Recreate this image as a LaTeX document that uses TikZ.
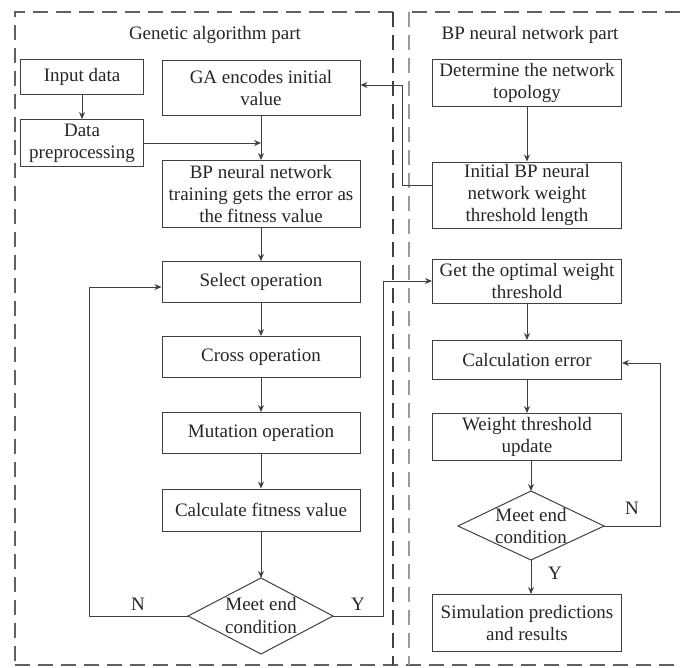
\documentclass[tikz,border=0pt]{standalone}
\usepackage{fontspec}
\setmainfont{Liberation Serif}
\newfontfamily\figfont{Liberation Serif}
\usetikzlibrary{arrows.meta,calc}
\definecolor{ln}{HTML}{404040}
\definecolor{dsh}{HTML}{606060}
\definecolor{dshl}{HTML}{9A9A9A}
\tikzset{
  box/.style={draw=ln,line width=1pt,align=center,inner sep=0pt,font=\figfont\fontsize{19}{22}\selectfont,text=black!85},
  wbox/.style={box,minimum width=198pt},
  rbox/.style={box,minimum width=189pt},
  sbox/.style={box,minimum width=123pt},
  lbl/.style={font=\figfont\fontsize{19}{22}\selectfont,text=black!85,inner sep=0pt},
  arr/.style={draw=ln,line width=1pt,-{Stealth[length=7pt,width=6pt]}},
  ln/.style={draw=ln,line width=1pt},
  frame/.style={line width=1.6pt,dash pattern=on 15pt off 8pt}
}
\begin{document}
\begin{tikzpicture}[x=1pt,y=-1pt]
\useasboundingbox (0,0) rectangle (680,667);
% frames
\draw[frame,dsh] (393,12) -- (15,12) -- (15,665);
\draw[frame,dsh] (15,665) -- (680,665);
\draw[frame,black!75] (393,12) -- (393,665);
\draw[frame,dsh] (680,12) -- (409,12);
\draw[frame,dshl] (409,12) -- (409,665);
% titles
\node[lbl] (t1) at (215,35) {Genetic algorithm part};
\node[lbl] (t2) at (530,35) {BP neural network part};
% left column
\node[sbox,minimum height=35pt] (inp) at (82,77) {Input data};
\node[sbox,minimum height=47pt] (pre) at (82,143) {Data\\preprocessing};
\node[wbox,minimum height=55pt] (ga) at (261,88) {GA encodes initial\\value};
\node[wbox,minimum height=67pt] (bp) at (261,194) {BP neural network\\training gets the error as\\the fitness value};
\node[wbox,minimum height=41pt] (sel) at (261,282) {Select operation};
\node[wbox,minimum height=41pt] (cro) at (261,357) {Cross operation};
\node[wbox,minimum height=41pt] (mut) at (261,433) {Mutation operation};
\node[wbox,minimum height=42pt] (fit) at (261,510) {Calculate fitness value};
\coordinate (d1n) at (261,578);
\coordinate (d1e) at (333,616);
\coordinate (d1s) at (261,654);
\coordinate (d1w) at (188,616);
\draw[ln] (d1n) -- (d1e) -- (d1s) -- (d1w) -- cycle;
\node[lbl,align=center,font=\figfont\fontsize{19}{23}\selectfont] (d1) at (261,615) {Meet end\\condition};
% right column
\node[rbox,minimum height=47pt] (det) at (527,83) {Determine the network\\topology};
\node[rbox,minimum height=66pt] (ini) at (527,195) {Initial BP neural\\network weight\\threshold length};
\node[rbox,minimum height=44pt] (opt) at (527,281) {Get the optimal weight\\threshold};
\node[rbox,minimum height=39pt] (cer) at (527,360) {Calculation error};
\node[rbox,minimum height=47pt] (upd) at (527,437) {Weight threshold\\update};
\coordinate (d2n) at (531,491);
\coordinate (d2e) at (604,526);
\coordinate (d2s) at (531,560);
\coordinate (d2w) at (458,526);
\draw[ln] (d2n) -- (d2e) -- (d2s) -- (d2w) -- cycle;
\node[lbl,align=center] (d2) at (531,526) {Meet end\\condition};
\node[rbox,minimum height=57pt] (sim) at (527,623) {Simulation predictions\\and results};
% left connectors
\draw[arr] (inp) -- (pre);
\draw[arr] (ga) -- (bp);
\draw[arr] (pre.east) -- (pre.east -| ga.south);
\draw[arr] (bp) -- (sel);
\draw[arr] (sel) -- (cro);
\draw[arr] (cro) -- (mut);
\draw[arr] (mut) -- (fit);
\draw[arr] (fit) -- (d1n);
\coordinate (nl) at (89,287);
\draw[arr] (d1w) -| (nl) -- (nl -| sel.west);
\node[lbl] (nlab) at (138,604) {N};
\coordinate (yl) at (383,281);
\draw[arr] (d1e) -| (yl) -- (opt.west);
\node[lbl] (ylab) at (358,604) {Y};
% right connectors
\draw[arr] (det) -- (ini);
\coordinate (gl) at (402,185);
\coordinate (gl2) at (402,85);
\draw[arr] ($(ini.west)+(0,-10)$) -- (gl) -- (gl2) -- (gl2 -| ga.east);
\draw[arr] (opt) -- (cer);
\draw[arr] (cer) -- (upd);
\draw[arr] (upd.south -| d2n) -- (d2n);
\draw[arr] (d2s) -- (d2s |- sim.north);
\node[lbl] (y2lab) at (555,573) {Y};
\coordinate (nr) at (660,363);
\draw[arr] (d2e) -| (nr) -- (nr -| cer.east);
\node[lbl] (n2lab) at (632,508) {N};
\end{tikzpicture}
\end{document}
